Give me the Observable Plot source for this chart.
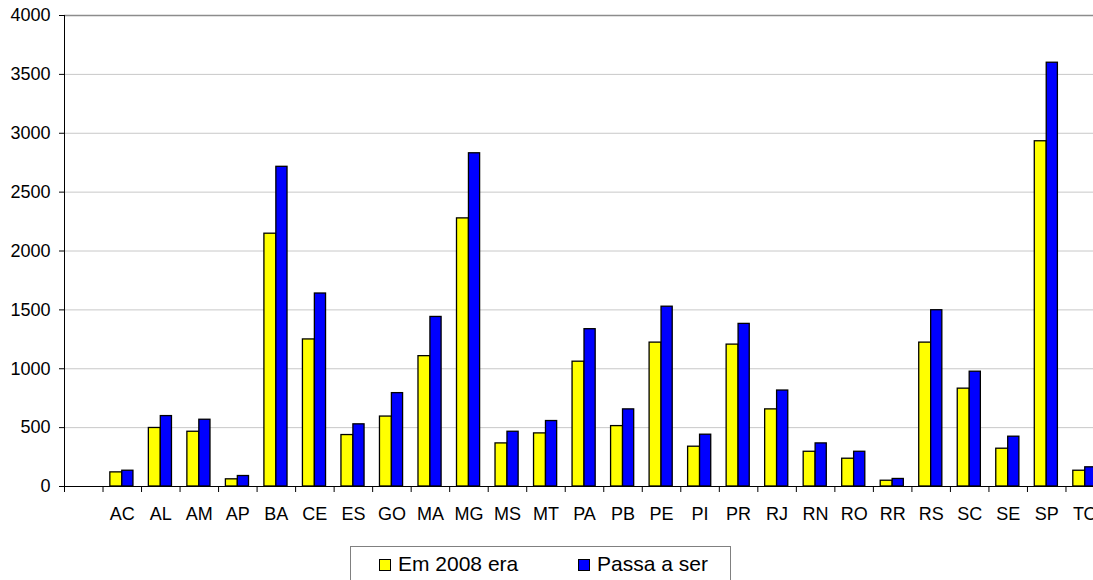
<!DOCTYPE html>
<html><head><meta charset="utf-8">
<script src="https://cdn.jsdelivr.net/npm/d3@7"></script>
<script src="https://cdn.jsdelivr.net/npm/@observablehq/plot@0.6"></script>
<style>
body{margin:0;background:#fff;}
#wrap{position:relative;width:1093px;height:580px;overflow:hidden;background:#fff;font-family:"Liberation Sans",Arial,sans-serif;}
#chart{position:absolute;left:0;top:0;width:1104px;}
#chart svg{max-width:none !important;}
#legend{position:absolute;left:350px;top:546px;width:381px;height:40px;border:1px solid #808080;box-sizing:border-box;font-size:21px;color:#000;}
.sw{position:absolute;width:10px;height:10px;border:1px solid #000;top:12px;}
.lt{position:absolute;top:6px;line-height:21px;white-space:nowrap;}
</style>
</head><body>
<div id="wrap"><div id="chart"></div><div id="legend"></div></div>
<script>
const estados = ["AC","AL","AM","AP","BA","CE","ES","GO","MA","MG","MS","MT","PA","PB","PE","PI","PR","RJ","RN","RO","RR","RS","SC","SE","SP","TO"];
const em2008 = [120, 497, 465, 61, 2147, 1249, 437, 594, 1107, 2277, 366, 451, 1060, 513, 1222, 338, 1205, 655, 295, 236, 49, 1222, 831, 321, 2932, 134];
const passaASer = [134, 598, 567, 89, 2715, 1639, 528, 793, 1440, 2830, 465, 556, 1336, 655, 1527, 440, 1381, 815, 366, 295, 64, 1497, 975, 423, 3599, 163];
const seriesNames = ["Em 2008 era", "Passa a ser"];
const seriesColors = ["#ffff00", "#0000ff"];
const yTicks = [0, 500, 1000, 1500, 2000, 2500, 3000, 3500, 4000];

const domain = ["", ...estados];
const rowsA = estados.map((s, i) => ({estado: s, valor: em2008[i]}));
const rowsB = estados.map((s, i) => ({estado: s, valor: passaASer[i]}));

const W = 1104, ML = 64;
const band = (W - ML) / domain.length;

const plot = Plot.plot({
  width: W, height: 540,
  marginLeft: ML, marginRight: 0, marginTop: 15, marginBottom: 54,
  style: {fontFamily: "'Liberation Sans', Arial, sans-serif", fontSize: "18px", color: "#000", background: "#fff", maxWidth: "none"},
  x: {domain, padding: 0, round: false, axis: null, label: null},
  y: {domain: [0, 4000], axis: null, label: null},
  marks: [
    Plot.ruleY(yTicks.slice(1, -1), {stroke: "#c8c8c8", strokeWidth: 1}),
    Plot.ruleY([4000], {stroke: "#8c8c8c", strokeWidth: 1.5}),
    Plot.barY(rowsA, {x: "estado", y: "valor", fill: seriesColors[0], stroke: "#000", strokeWidth: 1.3, insetLeft: band * 0.19, insetRight: band * 0.5}),
    Plot.barY(rowsB, {x: "estado", y: "valor", fill: seriesColors[1], stroke: "#000", strokeWidth: 1.3, insetLeft: band * 0.5, insetRight: band * 0.21}),
    Plot.ruleY([0], {stroke: "#000", strokeWidth: 1}),
    Plot.ruleX([domain[0]], {x: d => d, y1: 0, y2: 4000, dx: -band / 2, stroke: "#000", strokeWidth: 1}),
    Plot.axisY({ticks: yTicks, tickFormat: d => String(d), tickSize: 5, tickPadding: 9, fontSize: 18, stroke: "#000", label: null}),
    Plot.axisX({tickSize: 6, tickFormat: () => "", dx: -band / 2, stroke: "#000", label: null}),
    Plot.axisX({tickSize: 0, tickPadding: 21, fontSize: 18, label: null})
  ]
});
document.getElementById("chart").appendChild(plot);

const lg = document.getElementById("legend");
const pos = [{sw: 28, tx: 47}, {sw: 227, tx: 246}];
seriesNames.forEach((n, i) => {
  const s = document.createElement("div");
  s.className = "sw"; s.style.left = pos[i].sw + "px"; s.style.background = seriesColors[i];
  lg.appendChild(s);
  const t = document.createElement("div");
  t.className = "lt"; t.style.left = pos[i].tx + "px"; t.textContent = n;
  lg.appendChild(t);
});
</script>
</body></html>
